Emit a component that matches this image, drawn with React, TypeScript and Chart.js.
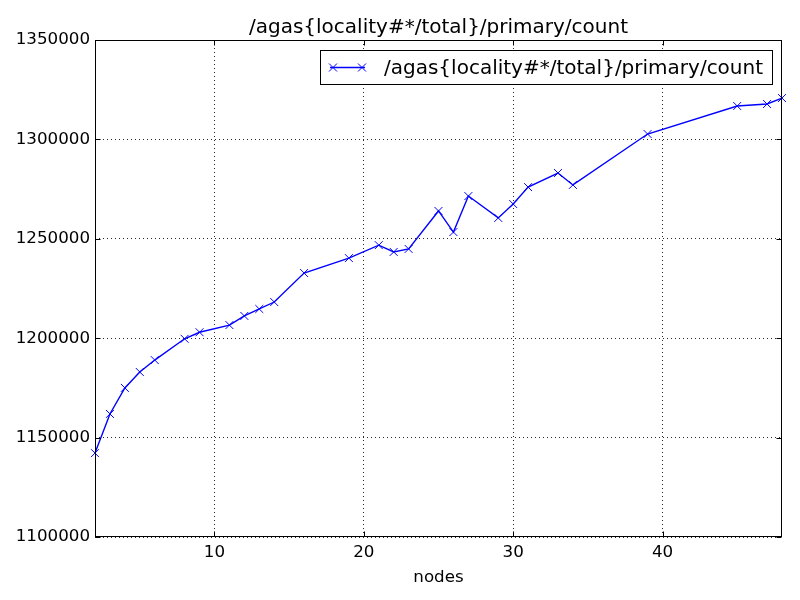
import React, { useEffect, useRef } from "react";
import { Chart, registerables } from "chart.js";

Chart.register(...registerables);

const nodes = [2, 3, 4, 5, 6, 8, 9, 11, 12, 13, 14, 16, 19, 21, 22, 23, 25, 26, 27, 29, 30, 31, 33, 34, 39, 45, 47, 48];
const counts = [
  1142200, 1161900, 1175000, 1183000, 1189000, 1199700, 1203000, 1206600, 1211200, 1214700,
  1218200, 1232800, 1240300, 1246800, 1243400, 1244900, 1264000, 1253400, 1271500, 1260500,
  1267500, 1276000, 1283100, 1277100, 1302700, 1316800, 1317800, 1320800,
];
const xTicks = [10, 20, 30, 40];
const yTicks = [1100000, 1150000, 1200000, 1250000, 1300000, 1350000];
const titleText = "/agas{locality#*/total}/primary/count";
const seriesLabel = "/agas{locality#*/total}/primary/count";
const xLabel = "nodes";

const FONT = "'DejaVu Sans', sans-serif";
const BLUE = "#0000ff";

const decorPlugin = {
  id: "decor",
  afterDraw(chart: any) {
    const ctx = chart.ctx;
    const ca = chart.chartArea;
    const xs = chart.scales.x;
    const ys = chart.scales.y;
    ctx.save();
    // frame
    ctx.strokeStyle = "#000";
    ctx.lineWidth = 1;
    ctx.setLineDash([]);
    const L = Math.round(ca.left) + 0.5;
    const R = Math.round(ca.right) - 0.5;
    const T = Math.round(ca.top) + 0.5;
    const B = Math.round(ca.bottom) - 0.5;
    ctx.strokeRect(L, T, R - L, B - T);
    // inner ticks
    const tl = 5;
    ctx.beginPath();
    xTicks.forEach((v) => {
      const px = Math.round(xs.getPixelForValue(v)) + 0.5;
      ctx.moveTo(px, B);
      ctx.lineTo(px, B - tl);
      ctx.moveTo(px, T);
      ctx.lineTo(px, T + tl);
    });
    yTicks.forEach((v) => {
      const py = Math.round(ys.getPixelForValue(v)) + 0.5;
      ctx.moveTo(L, py);
      ctx.lineTo(L + tl, py);
      ctx.moveTo(R, py);
      ctx.lineTo(R - tl, py);
    });
    ctx.stroke();
    // title
    ctx.fillStyle = "#000";
    ctx.font = `20px ${FONT}`;
    ctx.textAlign = "center";
    ctx.textBaseline = "alphabetic";
    ctx.fillText(titleText, (ca.left + ca.right) / 2, 33);
    // x label
    ctx.font = `16.7px ${FONT}`;
    ctx.fillText(xLabel, (ca.left + ca.right) / 2, 582);
    // legend
    const lx = 320.5, ly = 50.5, lw = 452, lh = 34;
    ctx.fillStyle = "#fff";
    ctx.fillRect(lx, ly, lw, lh);
    ctx.strokeStyle = "#000";
    ctx.strokeRect(lx, ly, lw, lh);
    const cy = ly + lh / 2;
    ctx.strokeStyle = BLUE;
    ctx.lineWidth = 1.4;
    ctx.beginPath();
    ctx.moveTo(330, cy);
    ctx.lineTo(365, cy);
    ctx.stroke();
    ctx.lineWidth = 1;
    const m = 4;
    [333, 362].forEach((mx) => {
      ctx.beginPath();
      ctx.moveTo(mx - m, cy - m);
      ctx.lineTo(mx + m, cy + m);
      ctx.moveTo(mx - m, cy + m);
      ctx.lineTo(mx + m, cy - m);
      ctx.stroke();
    });
    ctx.fillStyle = "#000";
    ctx.font = `20px ${FONT}`;
    ctx.textAlign = "left";
    ctx.textBaseline = "middle";
    ctx.fillText(seriesLabel, 384, cy + 1);
    ctx.restore();
  },
};

export default function App() {
  const ref = useRef<HTMLCanvasElement | null>(null);
  useEffect(() => {
    if (!ref.current) return;
    Chart.defaults.font.family = FONT;
    const chart = new Chart(ref.current, {
      type: "line",
      data: {
        datasets: [
          {
            label: seriesLabel,
            data: nodes.map((n, i) => ({ x: n, y: counts[i] })),
            borderColor: BLUE,
            backgroundColor: BLUE,
            borderWidth: 1.4,
            pointStyle: "crossRot",
            pointRadius: 5.6,
            pointBorderWidth: 1,
            pointBorderColor: BLUE,
            tension: 0,
            fill: false,
            clip: 6,
          } as any,
        ],
      },
      options: {
        responsive: false,
        animation: false,
        devicePixelRatio: 1,
        layout: { padding: { left: 0, right: 18, top: 40, bottom: 0 } },
        plugins: {
          legend: { display: false },
          title: { display: false },
          tooltip: { enabled: false },
        },
        scales: {
          x: {
            type: "linear",
            min: 2,
            max: 48,
            afterFit: (s: any) => {
              s.height = 63;
            },
            afterBuildTicks: (s: any) => {
              s.ticks = xTicks.map((v) => ({ value: v }));
            },
            ticks: {
              color: "#000",
              font: { size: 16.7, family: FONT },
              padding: 6,
              maxRotation: 0,
              autoSkip: false,
              callback: (v: any) => String(v),
            },
            grid: { color: "rgba(0,0,0,0.85)", lineWidth: 1, drawTicks: false },
            border: { display: false, dash: [1, 3] },
          },
          y: {
            type: "linear",
            min: 1100000,
            max: 1350000,
            afterFit: (s: any) => {
              s.width = 95;
            },
            afterBuildTicks: (s: any) => {
              s.ticks = yTicks.map((v) => ({ value: v }));
            },
            ticks: {
              color: "#000",
              font: { size: 16.7, family: FONT },
              padding: 5,
              autoSkip: false,
              callback: (v: any) => String(v),
            },
            grid: { color: "rgba(0,0,0,0.85)", lineWidth: 1, drawTicks: false },
            border: { display: false, dash: [1, 3] },
          },
        },
      },
      plugins: [decorPlugin],
    });
    return () => chart.destroy();
  }, []);
  return (
    <div style={{ position: "absolute", left: 0, top: 0, width: 800, height: 600, background: "#fff" }}>
      <canvas ref={ref} width={800} height={600} />
    </div>
  );
}
